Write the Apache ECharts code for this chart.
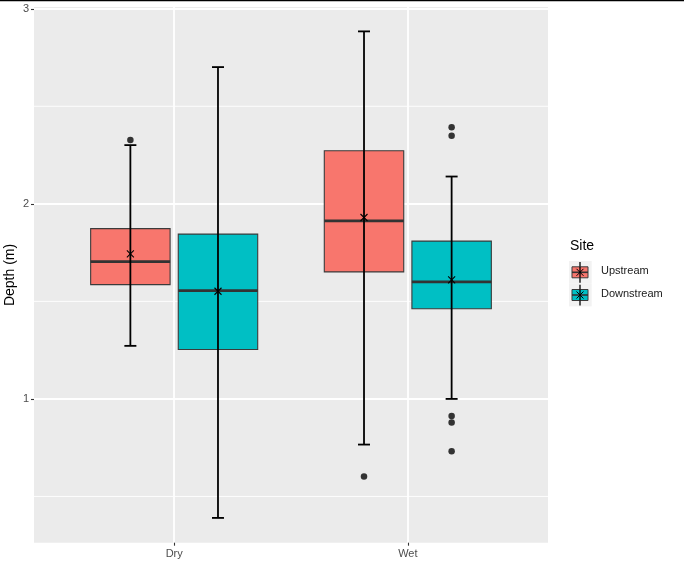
<!DOCTYPE html>
<html>
<head>
<meta charset="utf-8">
<script src="https://cdn.jsdelivr.net/npm/echarts@6/dist/echarts.min.js"></script>
<style>
  html, body { margin: 0; padding: 0; background: #fff; }
  #chart { width: 684px; height: 566px; }
</style>
</head>
<body>
<div id="chart"></div>
<script>
const categories = ['Dry', 'Wet']
const sites = ['Upstream', 'Downstream']
const siteColors = ['#F8766D', '#00BFC4']

// [lower whisker, Q1, median, Q3, upper whisker] for each category
const upstreamBox = [[1.272, 1.586, 1.704, 1.873, 2.301], [0.766, 1.651, 1.913, 2.272, 2.884]]
const downstreamBox = [[0.390, 1.253, 1.555, 1.845, 2.701], [1.000, 1.462, 1.600, 1.809, 2.140]]
const upstreamMean = [1.744, 1.930]
const downstreamMean = [1.552, 1.610]
// [category index, value]
const upstreamOutliers = [[0, 2.327], [1, 0.602]]
const downstreamOutliers = [[1, 2.393], [1, 2.349], [1, 0.913], [1, 0.879], [1, 0.732]]

const yTicks = [1, 2, 3]
const yMinorBreaks = [0.5, 1.5, 2.5]

const xMin = 0.4, xMax = 2.6
const yMin = 0.263, yMax = 3.009
const dodge = [-0.1875, 0.1875]
const boxHalf = 0.17

const boxes = [upstreamBox, downstreamBox]
const means = [upstreamMean, downstreamMean]
const outliers = [upstreamOutliers, downstreamOutliers]

const chart = echarts.init(document.getElementById('chart'))

function renderBox(params, api) {
  const x = api.value(0)
  const c = v => api.coord([x, v])
  const half = api.size([boxHalf, 0])[0]
  const cx = c(api.value(3))[0]
  const low = c(api.value(1))[1]
  const q1 = c(api.value(2))[1]
  const med = c(api.value(3))[1]
  const q3 = c(api.value(4))[1]
  const high = c(api.value(5))[1]
  const mean = c(api.value(6))[1]
  const color = siteColors[params.seriesIndex - 1]
  const cap = 6, m = 3.5
  return {
    type: 'group',
    children: [
      { type: 'rect', shape: { x: cx - half, y: q3, width: half * 2, height: q1 - q3 },
        style: { fill: color, stroke: '#3b3b3b', lineWidth: 1.1 } },
      { type: 'line', shape: { x1: cx - half, y1: med, x2: cx + half, y2: med },
        style: { stroke: '#333', lineWidth: 2.8 } },
      { type: 'line', shape: { x1: cx, y1: low, x2: cx, y2: high },
        style: { stroke: '#000', lineWidth: 1.8 } },
      { type: 'line', shape: { x1: cx - cap, y1: high, x2: cx + cap, y2: high },
        style: { stroke: '#000', lineWidth: 1.8 } },
      { type: 'line', shape: { x1: cx - cap, y1: low, x2: cx + cap, y2: low },
        style: { stroke: '#000', lineWidth: 1.8 } },
      { type: 'line', shape: { x1: cx - m, y1: mean - m, x2: cx + m, y2: mean + m },
        style: { stroke: '#000', lineWidth: 1.1 } },
      { type: 'line', shape: { x1: cx - m, y1: mean + m, x2: cx + m, y2: mean - m },
        style: { stroke: '#000', lineWidth: 1.1 } }
    ]
  }
}

const boxSeries = sites.map((name, s) => ({
  name: name,
  type: 'custom',
  z: 3,
  renderItem: renderBox,
  data: categories.map((cat, i) => [i + 1 + dodge[s], ...boxes[s][i], means[s][i]])
}))

const outlierSeries = sites.map((name, s) => ({
  name: name + ' outliers',
  type: 'scatter',
  z: 4,
  symbolSize: 6.5,
  itemStyle: { color: '#333', opacity: 1 },
  data: outliers[s].map(d => [d[0] + 1 + dodge[s], d[1]])
}))

// legend drawn by hand to mimic the boxplot key glyph
const legendGraphics = [
  { type: 'text', left: 570, top: 239, style: { text: 'Site', fontSize: 14, fill: '#000', fontFamily: 'Liberation Sans, Arial' } },
  { type: 'text', x: 10, y: 275, rotation: Math.PI / 2,
    style: { text: 'Depth (m)', fontSize: 14, fill: '#000', align: 'center', verticalAlign: 'middle', fontFamily: 'Liberation Sans, Arial' } }
]
sites.forEach((name, s) => {
  const top = 261 + s * 22.7
  const cx = 580
  const cy = top + 11.3
  legendGraphics.push(
    { type: 'rect', shape: { x: 569, y: top, width: 22.7, height: 22.7 }, style: { fill: '#F2F2F2' } },
    { type: 'line', shape: { x1: cx, y1: top + 1, x2: cx, y2: top + 21.7 }, style: { stroke: '#000', lineWidth: 1.3 } },
    { type: 'rect', shape: { x: 572, y: cy - 5.5, width: 16, height: 11 }, style: { fill: siteColors[s], stroke: '#3b3b3b', lineWidth: 1 } },
    { type: 'line', shape: { x1: 572, y1: cy, x2: 588, y2: cy }, style: { stroke: '#333', lineWidth: 1.6 } },
    { type: 'line', shape: { x1: cx, y1: cy - 5.5, x2: cx, y2: cy + 5.5 }, style: { stroke: '#000', lineWidth: 1.3 } },
    { type: 'line', shape: { x1: cx - 3.5, y1: cy - 3.5, x2: cx + 3.5, y2: cy + 3.5 }, style: { stroke: '#000', lineWidth: 1 } },
    { type: 'line', shape: { x1: cx - 3.5, y1: cy + 3.5, x2: cx + 3.5, y2: cy - 3.5 }, style: { stroke: '#000', lineWidth: 1 } },
    { type: 'text', left: 601, top: cy - 6.5, style: { text: name, fontSize: 11, fill: '#1a1a1a', fontFamily: 'Liberation Sans, Arial' } }
  )
})
legendGraphics.push({ type: 'rect', shape: { x: 0, y: 0, width: 684, height: 1.2 }, style: { fill: '#000' } })

const option = {
  animation: false,
  textStyle: { fontFamily: 'Liberation Sans, Arial, sans-serif' },
  grid: {
    left: 34, top: 7, width: 514, height: 535.7,
    containLabel: false,
    outerBoundsMode: 'none',
    show: true, backgroundColor: '#EBEBEB', borderWidth: 0
  },
  xAxis: {
    type: 'value',
    min: xMin,
    max: xMax,
    axisLine: { show: false },
    axisTick: { show: true, customValues: [1, 2], length: 3, lineStyle: { color: '#333', width: 1.1 } },
    axisLabel: {
      customValues: [1, 2],
      formatter: v => categories[Math.round(v) - 1] || '',
      color: '#4D4D4D', fontSize: 11, margin: 6
    },
    splitLine: { show: true, lineStyle: { color: '#fff', width: 1.8 } }
  },
  yAxis: {
    type: 'value',
    min: yMin,
    max: yMax,
    axisLine: { show: false },
    axisTick: { show: true, customValues: yTicks, length: 3, lineStyle: { color: '#333', width: 1.1 } },
    axisLabel: { customValues: yTicks, color: '#4D4D4D', fontSize: 11, margin: 5 },
    splitLine: { show: true, lineStyle: { color: '#fff', width: 1.8 } }
  },
  series: [
    {
      name: 'minor grid',
      type: 'custom',
      z: 1,
      silent: true,
      renderItem: (params, api) => {
        const a = api.coord([xMin, api.value(0)])
        const b = api.coord([xMax, api.value(0)])
        return { type: 'line', shape: { x1: a[0], y1: a[1], x2: b[0], y2: b[1] },
          style: { stroke: '#fff', lineWidth: 0.9 } }
      },
      data: yMinorBreaks.map(v => [v])
    },
    ...boxSeries,
    ...outlierSeries
  ],
  graphic: legendGraphics
}

chart.setOption(option)
</script>
</body>
</html>
